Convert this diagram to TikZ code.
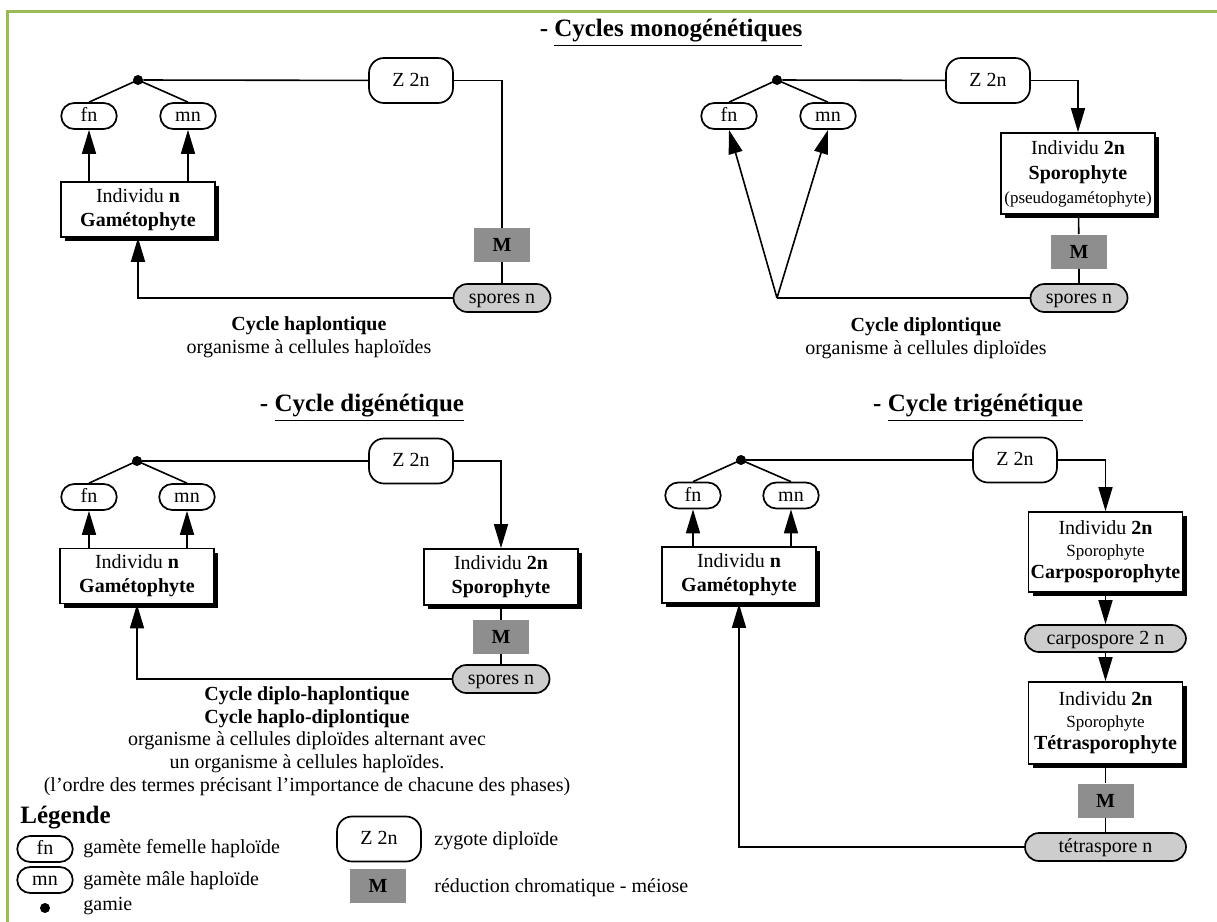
\documentclass[tikz,border=0pt]{standalone}
\usepackage{fontspec}
\setmainfont{Liberation Serif}
\usetikzlibrary{arrows.meta,shadows}
\definecolor{framegreen}{HTML}{9BBB59}
\definecolor{mgray}{HTML}{8E8E8E}
\definecolor{sgray}{HTML}{CDCDCD}
\tikzset{
  base/.style={inner sep=0pt, font=\fontsize{10}{12}\selectfont},
  oneline/.style={text height=7.4pt, text depth=1.6pt},
  gam/.style={base, oneline, draw, line width=0.85pt, rounded corners=6.5pt, minimum width=27.75pt, minimum height=13pt},
  zyg/.style={base, oneline, draw, line width=0.85pt, rounded corners=7.5pt, minimum width=42pt, minimum height=22.5pt},
  indiv/.style={base, draw, fill=white, line width=0.85pt, align=center, minimum width=77pt,
    drop shadow={shadow xshift=2pt, shadow yshift=-2pt, fill=black, opacity=1}},
  meio/.style={inner sep=0pt, text height=6.8pt, text depth=0pt, fill=mgray, minimum width=28pt, minimum height=17pt, font=\fontsize{10}{12}\selectfont\bfseries},
  spo/.style={base, oneline, draw, fill=sgray, line width=0.85pt, rounded corners=7pt, minimum width=48.5pt, minimum height=14pt},
  gdot/.style={circle, fill=black, inner sep=0pt, minimum size=5pt},
  conn/.style={line width=0.8pt},
  arr/.style={conn, -{Triangle[length=12pt,width=7pt]}},
  titletext/.style={inner sep=0pt, font=\fontsize{12.5}{15}\selectfont\bfseries},
  capt/.style={inner sep=0pt, align=center, font=\fontsize{10}{11.3}\selectfont},
  legtxt/.style={inner sep=0pt, anchor=base west, font=\fontsize{10}{12}\selectfont},
}
\begin{document}
\begin{tikzpicture}[x=0.5pt,y=-0.5pt]
\fill[white] (0,0) rectangle (1217,922);
\useasboundingbox (0,0) rectangle (1217,922);
\draw[framegreen, line width=1.5pt] (7,922) -- (7,11) -- (1217,11);

% ---------------- titles
\node[titletext] (t1) at (671,33) {- \underline{Cycles monogénétiques}};
\node[titletext] (t2) at (362,408) {- \underline{Cycle digénétique}};
\node[titletext] (t3) at (978,408) {- \underline{Cycle trigénétique}};

% ---------------- cycle haplontique
\node[gdot] (d1) at (138,80) {};
\node[gam] (f1) at (89,116) {fn};
\node[gam] (m1) at (188,116) {mn};
\node[zyg] (z1) at (411,80.5) {Z 2n};
\node[indiv, minimum height=27.5pt] (i1) at (138,209.5) {Individu \textbf{n}\\\textbf{Gamétophyte}};
\node[meio] (M1) at (502,245) {M};
\node[spo] (s1) at (502,298) {spores n};
\draw[conn] (f1.north) -- (d1.center) -- (m1.north);
\draw[conn] (d1) -- (z1);
\draw[conn] (z1) -| (M1);
\draw[conn] (M1) -- (s1);
\draw[arr] (f1 |- i1.north) -- (f1.south);
\draw[arr] (m1 |- i1.north) -- (m1.south);
\draw[arr] (s1.west) -| (i1.south);
\node[capt] (c1) at (309,337.5) {\textbf{Cycle haplontique}\\organisme à cellules haploïdes};

% ---------------- cycle diplontique
\node[gdot] (d2) at (777,80) {};
\node[gam] (f2) at (729,116) {fn};
\node[gam] (m2) at (828,116) {mn};
\node[zyg] (z2) at (988,80.5) {Z 2n};
\node[indiv, minimum height=40.5pt] (i2) at (1078,173.5) {Individu \textbf{2n}\\[0.5pt]\textbf{Sporophyte}\\{\fontsize{8.5}{10}\selectfont (pseudogamétophyte)}};
\node[meio] (M2) at (1079,251.5) {M};
\node[spo] (s2) at (1079,298) {spores n};
\coordinate (a2) at (777,298);
\draw[conn] (f2.north) -- (d2.center) -- (m2.north);
\draw[conn] (d2) -- (z2);
\draw[arr] (z2) -| (i2);
\draw[conn] (i2) -- (M2) -- (s2);
\draw[conn] (s2) -- (a2);
\draw[arr] (a2) -- (f2.south);
\draw[arr] (a2) -- (m2.south);
\node[capt] (c2) at (926,338) {\textbf{Cycle diplontique}\\organisme à cellules diploïdes};

% ---------------- cycle digenetique
\node[gdot] (d3) at (137,461) {};
\node[gam] (f3) at (89,497) {fn};
\node[gam] (m3) at (187,497) {mn};
\node[zyg] (z3) at (411,461) {Z 2n};
\node[indiv, minimum height=27.5pt] (i3) at (137,576) {Individu \textbf{n}\\\textbf{Gamétophyte}};
\node[indiv, minimum height=28pt] (i4) at (501,577) {Individu \textbf{2n}\\\textbf{Sporophyte}};
\node[meio] (M3) at (501,637) {M};
\node[spo] (s3) at (501,679) {spores n};
\draw[conn] (f3.north) -- (d3.center) -- (m3.north);
\draw[conn] (d3) -- (z3);
\draw[arr] (z3) -| (i4);
\draw[conn] (i4) -- (M3) -- (s3);
\draw[arr] (f3 |- i3.north) -- (f3.south);
\draw[arr] (m3 |- i3.north) -- (m3.south);
\draw[arr] (s3.west) -| (i3.south);
\node[capt] (c3) at (307,741) {\textbf{Cycle diplo-haplontique}\\\textbf{Cycle haplo-diplontique}\\organisme à cellules diploïdes alternant avec\\un organisme à cellules haploïdes.\\(l’ordre des termes précisant l’importance de chacune des phases)};

% ---------------- cycle trigenetique
\node[gdot] (d4) at (741,460) {};
\node[gam] (f4) at (693,495.5) {fn};
\node[gam] (m4) at (791,495.5) {mn};
\node[zyg] (z4) at (1015,460) {Z 2n};
\node[indiv, minimum height=28pt] (i5) at (739,575) {Individu \textbf{n}\\\textbf{Gamétophyte}};
\node[indiv, minimum height=40pt] (i6) at (1105.5,552) {Individu \textbf{2n}\\[-1pt]{\fontsize{8.5}{10}\selectfont Sporophyte}\\[-1pt]\textbf{Carposporophyte}};
\node[spo, minimum width=80.5pt, minimum height=13.5pt] (cs) at (1105.5,638.5) {carpospore 2 n};
\node[indiv, minimum height=41pt] (i7) at (1105.5,723) {Individu \textbf{2n}\\[-1pt]{\fontsize{8.5}{10}\selectfont Sporophyte}\\[-1pt]\textbf{Tétrasporophyte}};
\node[meio] (M4) at (1105.5,800.5) {M};
\node[spo, minimum width=80.5pt] (ts) at (1105.5,847) {tétraspore n};
\draw[conn] (f4.north) -- (d4.center) -- (m4.north);
\draw[conn] (d4) -- (z4);
\draw[arr] (z4) -| (i6);
\draw[arr] (i6) -- (cs);
\draw[arr] (cs) -- (i7);
\draw[conn] (i7) -- (M4) -- (ts);
\draw[arr] (f4 |- i5.north) -- (f4.south);
\draw[arr] (m4 |- i5.north) -- (m4.south);
\draw[arr] (ts.west) -| (i5.south);

% ---------------- legend
\node[titletext, anchor=base west] (lg) at (20,823) {Légende};
\node[gam] (lf) at (45,849) {fn};
\node[legtxt] (lft) at (83,853) {gamète femelle haploïde};
\node[gam] (lm) at (45,880) {mn};
\node[legtxt] (lmt) at (83,885) {gamète mâle haploïde};
\node[gdot] (ld) at (45,908) {};
\node[legtxt] (ldt) at (83,910) {gamie};
\node[zyg] (lz) at (379,839) {Z 2n};
\node[legtxt] (lzt) at (434,845) {zygote diploïde};
\node[meio] (lM) at (378,885.5) {M};
\node[legtxt] (lMt) at (434,892) {réduction chromatique - méiose};
\end{tikzpicture}
\end{document}
